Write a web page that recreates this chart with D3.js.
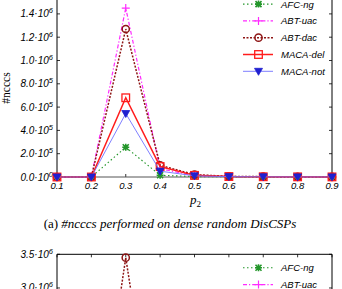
<!DOCTYPE html>
<html><head><meta charset="utf-8">
<script src="https://cdn.jsdelivr.net/npm/d3@7"></script>
<style>
html,body{margin:0;padding:0;background:#fff;overflow:hidden}
svg{display:block}
</style></head>
<body>
<svg id="chart" width="342" height="289"></svg>
<script>
// ---------- data ----------
const p2 = [0.1, 0.2, 0.3, 0.4, 0.5, 0.6, 0.7, 0.8, 0.9];
const xTicks = [0.1, 0.2, 0.3, 0.4, 0.5, 0.6, 0.7, 0.8, 0.9];
const seriesNames = ["AFC-ng", "ABT-uac", "ABT-dac", "MACA-del", "MACA-not"];
// chart (a): dense random DisCSPs
const denseAFCng   = [0, 0, 255000, 15000, 4000, 1500, 800, 500, 300];
const denseABTuac  = [0, 0, 1450000, 70000, 12000, 4000, 2000, 1200, 800];
const denseABTdac  = [0, 0, 1270000, 100000, 20000, 6000, 3000, 1800, 1000];
const denseMACAdel = [0, 0, 680000, 90000, 14000, 4000, 2000, 1200, 800];
const denseMACAnot = [0, 0, 545000, 50000, 10000, 3000, 1500, 900, 600];
const denseYTicks  = [0, 200000, 400000, 600000, 800000, 1000000, 1200000, 1400000];
// chart (b): partly visible
const sparseAFCng   = [0, 0, 600000, 40000, 8000, 3000, 1500, 900, 500];
const sparseABTuac  = [0, 0, 2700000, 150000, 25000, 8000, 4000, 2500, 1500];
const sparseABTdac  = [0, 0, 3450000, 180000, 30000, 9000, 4500, 2800, 1600];
const sparseMACAdel = [0, 0, 1600000, 120000, 20000, 6000, 3000, 1800, 1000];
const sparseMACAnot = [0, 0, 1300000, 90000, 15000, 5000, 2500, 1500, 900];
const sparseYTicks  = [0, 500000, 1000000, 1500000, 2000000, 2500000, 3000000, 3500000];
const captionA = "#ncccs performed on dense random DisCSPs";

// ---------- styles ----------
const styles = {
  "AFC-ng":   {color: "#23962a", dash: "1.5,2.5", width: 1.1, marker: "aster"},
  "ABT-uac":  {color: "#ff2bff", dash: "4,2,1.2,2", width: 1.2, marker: "plus"},
  "ABT-dac":  {color: "#8e1515", dash: "2,1.5", width: 1.5, marker: "circle"},
  "MACA-del": {color: "#ff1c1c", dash: null, width: 1.5, marker: "square"},
  "MACA-not": {color: "#7070ff", dash: null, width: 0.9, marker: "tri"}
};

const svg = d3.select("#chart");
const H = 289;
const tickFont = "'Liberation Sans', Arial, sans-serif";
const serif = "'Liberation Serif', 'Times New Roman', serif";

function drawMarker(g, type, cx, cy, color) {
  if (type === "circle") {
    g.append("circle").attr("cx", cx).attr("cy", cy).attr("r", 3.6)
      .attr("fill", "none").attr("stroke", color).attr("stroke-width", 1.5);
  } else if (type === "square") {
    g.append("rect").attr("x", cx - 3.8).attr("y", cy - 3.8).attr("width", 7.6).attr("height", 7.6)
      .attr("fill", "none").attr("stroke", color).attr("stroke-width", 1.3);
  } else if (type === "tri") {
    g.append("path").attr("d", `M${cx-4},${cy-3} L${cx+4},${cy-3} L${cx},${cy+4} Z`)
      .attr("fill", "#2020d0").attr("stroke", "#2020d0").attr("stroke-width", 0.8);
  } else if (type === "plus") {
    g.append("path").attr("d", `M${cx-4},${cy} H${cx+4} M${cx},${cy-4} V${cy+4}`)
      .attr("stroke", color).attr("stroke-width", 1.2);
  } else if (type === "aster") {
    g.append("path").attr("d", `M${cx-3.5},${cy} H${cx+3.5} M${cx},${cy-3.5} V${cy+3.5} M${cx-3},${cy-3} L${cx+3},${cy+3} M${cx-3},${cy+3} L${cx+3},${cy-3}`)
      .attr("stroke", color).attr("stroke-width", 1.6);
  }
}

function supLabel(sel, v) {
  sel.text(null);
  let e = 0, m = 0;
  if (v !== 0) { e = Math.floor(Math.log10(v)); m = v / Math.pow(10, e); }
  sel.append("tspan").text(m.toFixed(1) + "\u00B710");
  sel.append("tspan").attr("dy", -4).attr("font-size", 7.5).text(e);
}

function drawChart(cfg) {
  const g = svg.append("g");
  const x = d3.scaleLinear().domain([0.1, 0.9]).range([57, 332]);
  const y = d3.scaleLinear().domain(cfg.yDomain).range([cfg.bottom, cfg.top]);

  const ax = g.append("g");
  xTicks.forEach(t => {
    ax.append("line").attr("x1", x(t)).attr("x2", x(t)).attr("y1", cfg.bottom).attr("y2", cfg.bottom - 3).attr("stroke", "#000").attr("stroke-width", 0.8);
    ax.append("line").attr("x1", x(t)).attr("x2", x(t)).attr("y1", cfg.top).attr("y2", cfg.top + 3).attr("stroke", "#000").attr("stroke-width", 0.8);
    if (cfg.bottom + 12 < H)
      ax.append("text").attr("x", x(t)).attr("y", cfg.bottom + 12).attr("text-anchor", "middle")
        .attr("font-family", tickFont).attr("font-style", "italic").attr("font-size", 9.5).text(t.toFixed(1));
  });
  cfg.yTicks.forEach(t => {
    ax.append("line").attr("x1", 57).attr("x2", 60).attr("y1", y(t)).attr("y2", y(t)).attr("stroke", "#000").attr("stroke-width", 0.8);
    ax.append("line").attr("x1", 332).attr("x2", 329).attr("y1", y(t)).attr("y2", y(t)).attr("stroke", "#000").attr("stroke-width", 0.8);
    if (y(t) - 6 < H && y(t) > 0) {
      const tx = ax.append("text").attr("x", 53).attr("y", y(t) + 3.5).attr("text-anchor", "end")
        .attr("font-family", tickFont).attr("font-style", "italic").attr("font-size", 10);
      supLabel(tx, t);
    }
  });

  g.append("line").attr("x1", 57).attr("x2", 57).attr("y1", cfg.top).attr("y2", cfg.bottom).attr("stroke", "#000").attr("stroke-width", 1);
  g.append("line").attr("x1", 332).attr("x2", 332).attr("y1", cfg.top).attr("y2", cfg.bottom).attr("stroke", "#000").attr("stroke-width", 1);
  g.append("line").attr("x1", 57).attr("x2", 332).attr("y1", cfg.top).attr("y2", cfg.top).attr("stroke", "#000").attr("stroke-width", 1);
  g.append("line").attr("x1", 57).attr("x2", 332).attr("y1", cfg.bottom).attr("y2", cfg.bottom).attr("stroke", "#555").attr("stroke-width", 1);

  const line = d3.line().x((d, i) => x(p2[i])).y(d => y(d));
  seriesNames.forEach((name, k) => {
    const st = styles[name];
    const vals = cfg.series[k];
    const sg = g.append("g");
    sg.append("path").attr("d", line(vals)).attr("fill", "none").attr("stroke", st.color)
      .attr("stroke-width", st.width).attr("stroke-dasharray", st.dash);
    vals.forEach((v, i) => drawMarker(sg, st.marker, x(p2[i]), y(v), st.color));
  });

  const lg = g.append("g");
  seriesNames.forEach((name, k) => {
    const st = styles[name];
    const ly = cfg.top + 13.5 + k * 16.8;
    if (ly - 5 > H) return;
    lg.append("line").attr("x1", 243).attr("x2", 273).attr("y1", ly).attr("y2", ly)
      .attr("stroke", st.color).attr("stroke-width", st.width).attr("stroke-dasharray", st.dash);
    drawMarker(lg, st.marker, 258.5, ly, st.color);
    lg.append("text").attr("x", 281).attr("y", ly + 3.5).attr("font-family", tickFont)
      .attr("font-style", "italic").attr("font-size", 9.5).text(name);
  });
}

drawChart({top: -9.4, bottom: 177, yDomain: [0, 1600000], yTicks: denseYTicks,
  series: [denseAFCng, denseABTuac, denseABTdac, denseMACAdel, denseMACAnot]});
drawChart({top: 254.3, bottom: 490, yDomain: [0, 3500000], yTicks: sparseYTicks,
  series: [sparseAFCng, sparseABTuac, sparseABTdac, sparseMACAdel, sparseMACAnot]});

svg.append("text").attr("transform", "translate(10,88) rotate(-90)").attr("text-anchor", "middle")
  .attr("font-family", serif).attr("font-size", 11.5).text("#ncccs");
const xl = svg.append("text").attr("x", 190).attr("y", 204).attr("font-family", serif).attr("font-size", 13);
xl.append("tspan").attr("font-style", "italic").text("p");
xl.append("tspan").attr("dy", 3).attr("font-size", 9).text("2");

const cap = svg.append("text").attr("x", 170).attr("y", 228).attr("text-anchor", "middle")
  .attr("font-family", serif).attr("font-size", 13);
cap.append("tspan").text("(a) ");
cap.append("tspan").attr("font-style", "italic").text(captionA);
</script>
</body></html>
